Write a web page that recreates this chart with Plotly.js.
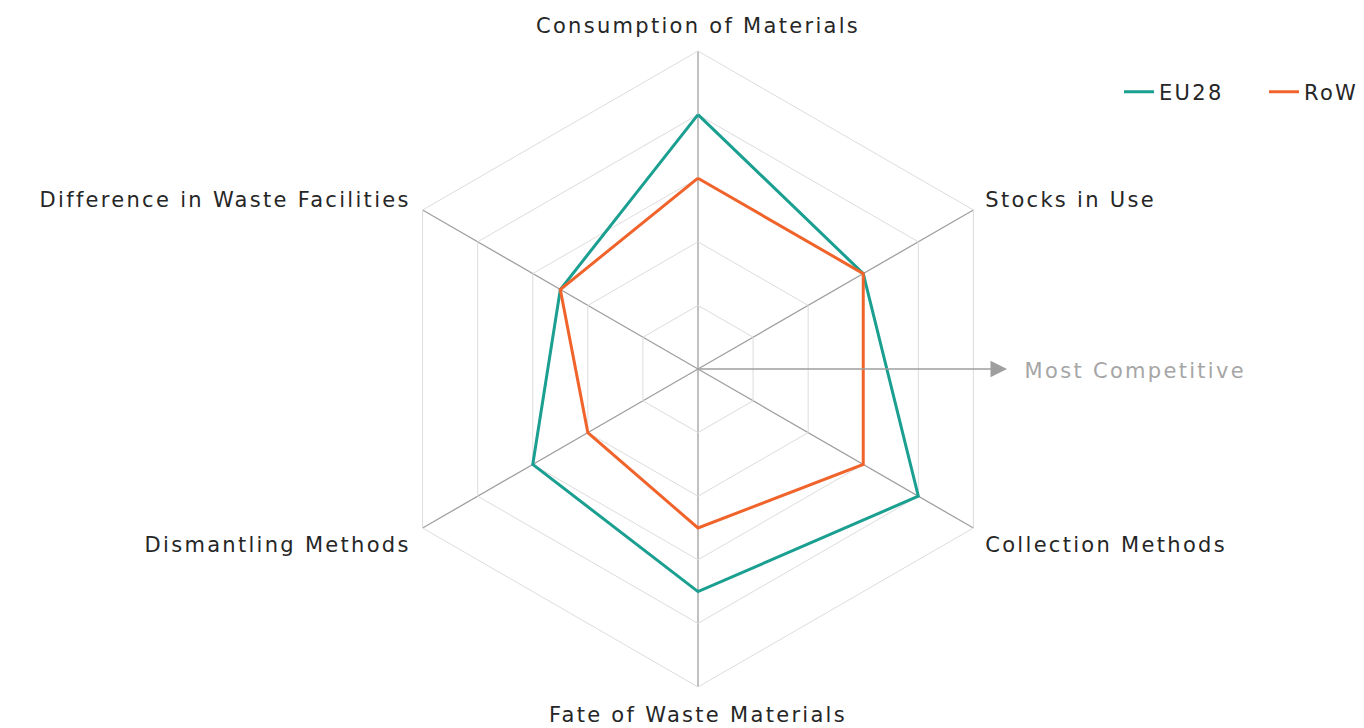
<!DOCTYPE html>
<html>
<head>
<meta charset="utf-8">
<script src="https://cdn.plot.ly/plotly-3.0.1.min.js"></script>
<style>
html,body{margin:0;padding:0;background:#fff;}
#chart{width:1364px;height:728px;}
#chart svg text{letter-spacing:2.3px;}
</style>
</head>
<body>
<div id="chart"></div>
<script>
const categories = ["Consumption of Materials", "Stocks in Use", "Collection Methods", "Fate of Waste Materials", "Dismantling Methods", "Difference in Waste Facilities"];
const eu28 = [4, 3, 4, 3.5, 3, 2.5];
const row = [3, 3, 3, 2.5, 2, 2.5];
const seriesNames = ["EU28", "RoW"];
const seriesColors = ["#1a9f90", "#f0642c"];
const arrowLabel = "Most Competitive";

const closeLoop = a => a.concat([a[0]]);
const theta = closeLoop(categories);

const traces = [eu28, row].map((vals, i) => ({
  type: "scatterpolar",
  r: closeLoop(vals),
  theta: theta,
  mode: "lines",
  name: seriesNames[i],
  line: {color: seriesColors[i], width: 3}
}));

const W = 1364, H = 728;
const cx = 698, cy = 369, R = 318;
const FONT = "DejaVu Sans, Open Sans, sans-serif";

const layout = {
  width: W, height: H,
  margin: {l: 0, r: 0, t: 0, b: 0, autoexpand: false},
  paper_bgcolor: "#fff",
  font: {family: FONT, size: 21, color: "#262626"},
  showlegend: true,
  legend: {
    orientation: "h",
    x: 1119 / W, xanchor: "left", y: 1 - 92 / H, yanchor: "middle",
    entrywidth: 100, entrywidthmode: "pixels",
    font: {family: FONT, size: 21, color: "#262626"},
    bgcolor: "rgba(0,0,0,0)"
  },
  polar: {
    domain: {x: [(cx - R) / W, (cx + R) / W], y: [(H - cy - R) / H, (H - cy + R) / H]},
    gridshape: "linear",
    bgcolor: "#fff",
    radialaxis: {
      range: [0, 5], dtick: 1, showticklabels: false, ticks: "", showline: false,
      gridcolor: "#dcdcdc", gridwidth: 1
    },
    angularaxis: {
      rotation: 90, direction: "clockwise",
      showline: true, linecolor: "#dcdcdc", linewidth: 1,
      gridcolor: "#a0a0a0", gridwidth: 1.3,
      ticks: "outside", ticklen: 9, tickcolor: "rgba(0,0,0,0)",
      tickfont: {family: FONT, size: 21, color: "#262626"}
    }
  },
  annotations: [
    {
      xref: "paper", yref: "paper",
      x: 1007 / W, y: (H - cy) / H,
      axref: "pixel", ayref: "pixel",
      ax: -(1007 - cx), ay: 0,
      showarrow: true, arrowhead: 2, arrowsize: 2.2, arrowwidth: 1.5, arrowcolor: "#9e9e9e",
      text: ""
    },
    {
      xref: "paper", yref: "paper",
      x: 1041 / W, y: (H - cy - 2) / H,
      xanchor: "left", yanchor: "middle",
      showarrow: false,
      text: arrowLabel,
      font: {family: FONT, size: 21, color: "#a6a6a6"}
    }
  ]
};

Plotly.newPlot("chart", traces, layout, {displayModeBar: false, staticPlot: true});
</script>
</body>
</html>
